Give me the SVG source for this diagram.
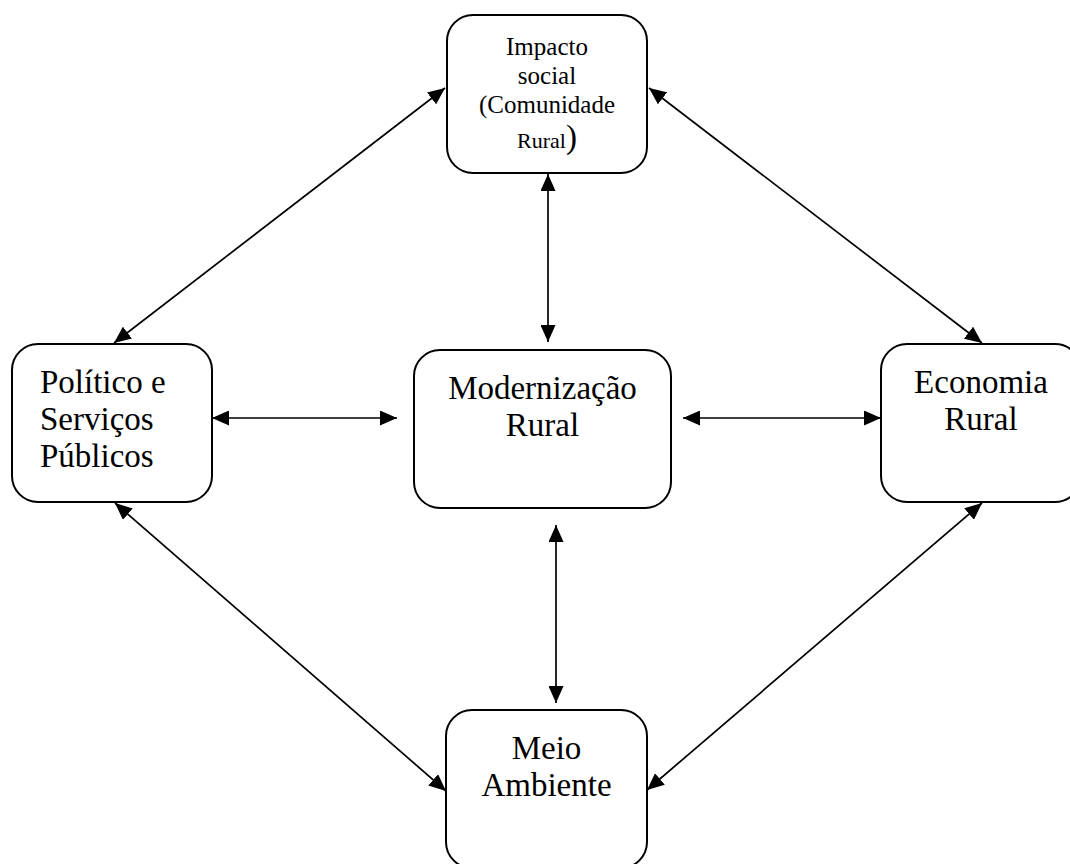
<svg xmlns="http://www.w3.org/2000/svg" width="1070" height="864" viewBox="0 0 1070 864">
<defs>
<marker id="ah" viewBox="0 0 17 15" refX="17" refY="7.5" markerWidth="17" markerHeight="15" markerUnits="userSpaceOnUse" orient="auto-start-reverse">
<path d="M0,0 L17,7.5 L0,15 z" fill="#000"/>
</marker>
<style>
.box{fill:#fff;stroke:#000;stroke-width:2}
.t{font-family:"Liberation Serif","Times New Roman",serif;fill:#000}
.big{font-size:33px}
.sm{font-size:25px}
.c{stroke:#000;stroke-width:1.7;fill:none;marker-start:url(#ah);marker-end:url(#ah)}
</style>
</defs>
<rect width="1070" height="864" fill="#fff"/>
<g id="connectors">
<line class="c" x1="445" y1="88" x2="114" y2="343"/>
<line class="c" x1="649" y1="88" x2="982" y2="343"/>
<line class="c" x1="115" y1="503" x2="446" y2="791"/>
<line class="c" x1="982" y1="503" x2="647" y2="790"/>
<line class="c" x1="212" y1="418" x2="397" y2="418"/>
<line class="c" x1="683" y1="418" x2="881" y2="418"/>
<line class="c" x1="548" y1="174" x2="548" y2="342"/>
<line class="c" x1="556" y1="525" x2="556" y2="703"/>
</g>
<g id="impacto-social">
<rect class="box" x="447" y="15" width="200" height="158" rx="26"/>
<text class="t sm" x="547" y="55" text-anchor="middle">Impacto</text>
<text class="t sm" x="547" y="84" text-anchor="middle">social</text>
<text class="t sm" x="547" y="113" text-anchor="middle">(Comunidade</text>
<text class="t" x="547" y="148" text-anchor="middle"><tspan font-size="22">Rural</tspan><tspan font-size="33">)</tspan></text>
</g>
<g id="politico">
<rect class="box" x="12" y="344" width="200" height="158" rx="26"/>
<text class="t big" x="40" y="393">Político e</text>
<text class="t big" x="40" y="430">Serviços</text>
<text class="t big" x="40" y="467">Públicos</text>
</g>
<g id="modernizacao">
<rect class="box" x="414" y="350" width="257" height="158" rx="26"/>
<text class="t big" x="542.5" y="399" text-anchor="middle">Modernização</text>
<text class="t big" x="542.5" y="436" text-anchor="middle">Rural</text>
</g>
<g id="economia">
<rect class="box" x="881" y="344" width="200" height="158" rx="26"/>
<text class="t big" x="981" y="393" text-anchor="middle">Economia</text>
<text class="t big" x="981" y="430" text-anchor="middle">Rural</text>
</g>
<g id="meio-ambiente">
<rect class="box" x="446" y="710" width="201" height="158" rx="26"/>
<text class="t big" x="546.5" y="759" text-anchor="middle">Meio</text>
<text class="t big" x="546.5" y="796" text-anchor="middle">Ambiente</text>
</g>
</svg>
